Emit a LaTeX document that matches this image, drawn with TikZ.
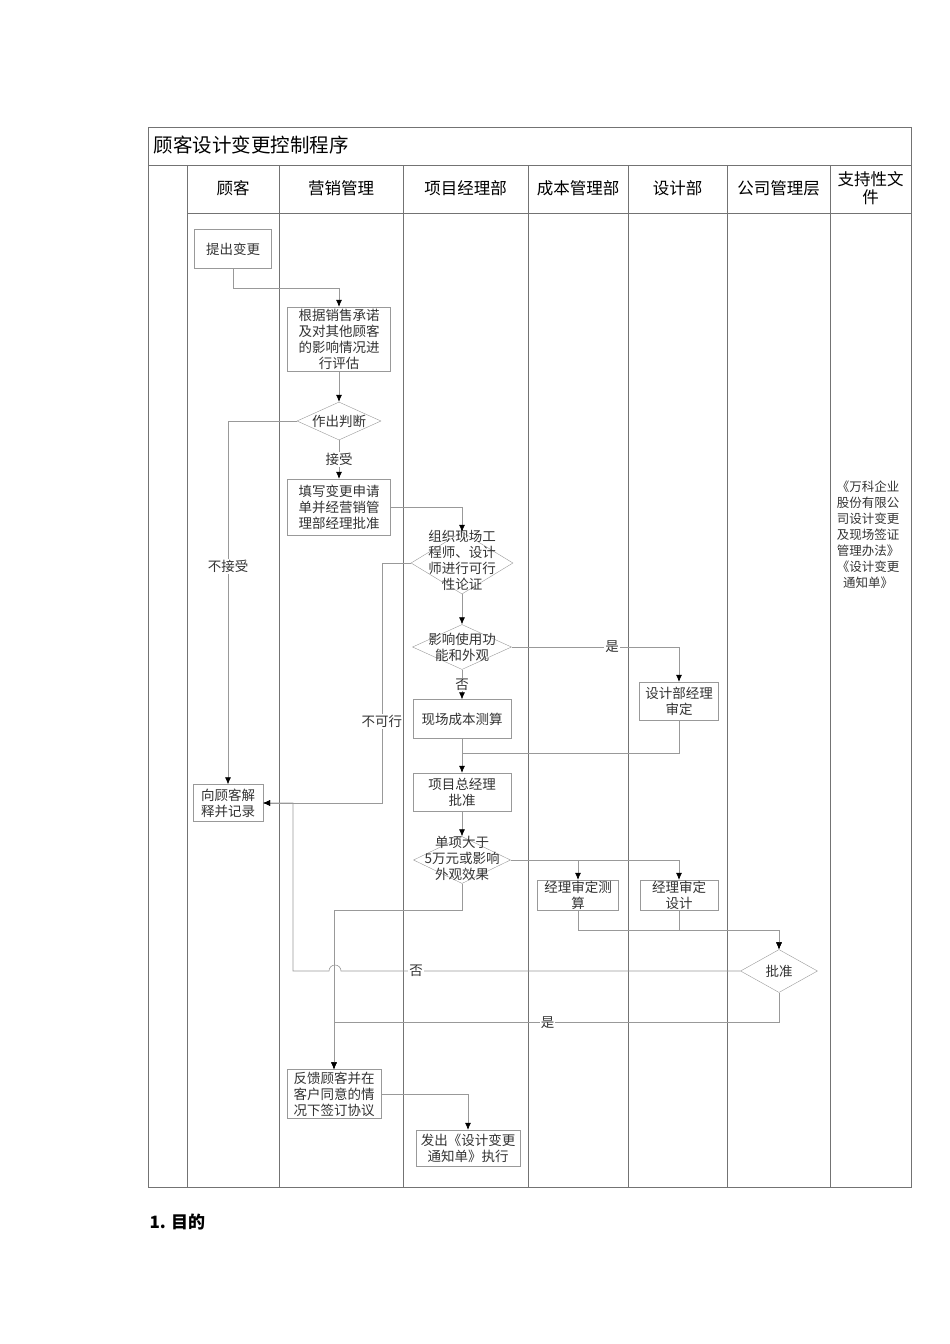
\documentclass[tikz,border=0pt]{standalone}
\usepackage{fontspec}
\setmainfont{Noto Sans CJK SC}
\usetikzlibrary{positioning}
\usetikzlibrary{shapes.geometric}
\usetikzlibrary{arrows.meta}

\newcommand{\flowfont}{\fontsize{13.5}{16}\selectfont}
\newcommand{\headfont}{\fontsize{16.5}{18}\selectfont}

\tikzset{
  frame/.style={black!55, line width=0.7pt},
  line/.style={black!40, line width=0.6pt},
  flow/.style={line, -{Latex[color=black,length=7pt,width=6pt]}},
  box/.style={draw=black!40, fill=white, inner sep=0pt, align=center, font=\flowfont, text=black!80},
  dec/.style={diamond, draw=black!40, fill=white, inner sep=0pt},
  dtext/.style={align=center, font=\flowfont, text=black!80},
  tag/.style={fill=white, inner sep=1pt, font=\flowfont, text=black!80},
  head/.style={font=\headfont, align=center},
}

\begin{document}
\begin{tikzpicture}[x=1pt,y=-1pt]

\useasboundingbox (0,0) rectangle (950,1344);

% table
{
\draw[frame] (148,127) rectangle (911,1187);
\draw[frame] (148,165) -- (911,165);
\draw[frame] (187,213) -- (911,213);
\foreach \x in {187,279,403,528,628,727,830}
  \draw[frame] (\x,165) -- (\x,1187);
}

% title and headers
{
\node[anchor=west, font=\fontsize{19.5}{22}\selectfont] (title) at (150,145) {顾客设计变更控制程序};

\foreach \x/\t/\n in {233/顾客/cust, 341/营销管理/sale, 465.5/项目经理部/proj,
    578/成本管理部/cost, 677.5/设计部/des, 778.5/公司管理层/corp, 870.5/支持性文\\件/doc}
  \node[head] (h\n) at (\x,188) {\t};
}

% boxes
{
\node[box, minimum width=77, minimum height=39] (ask) at (233,249) {提出变更};
\node[box, minimum width=103, minimum height=64] (eval) at (339,339)
  {根据销售承诺\\及对其他顾客\\的影响情况进\\行评估};
\node[box, minimum width=103, minimum height=56] (apply) at (339,507)
  {填写变更申请\\单并经营销管\\理部经理批准};
\node[box, minimum width=98, minimum height=39] (site) at (462,719) {现场成本测算};
\node[box, minimum width=79, minimum height=38] (dmgr) at (679,701) {设计部经理\\审定};
\node[box, minimum width=98, minimum height=38] (gm) at (462,792) {项目总经理\\批准};
\node[box, minimum width=81, minimum height=30] (costok) at (578,895) {经理审定测\\算};
\node[box, minimum width=78, minimum height=30] (desok) at (679,895) {经理审定\\设计};
\node[box, minimum width=70, minimum height=37] (explain) at (228,803) {向顾客解\\释并记录};
\node[box, minimum width=94, minimum height=49] (feed) at (334,1094)
  {反馈顾客并在\\客户同意的情\\况下签订协议};
\node[box, minimum width=104, minimum height=36] (issue) at (468,1148)
  {发出《设计变更\\通知单》执行};
}

% decisions
{
\node[dec, minimum width=84, minimum height=38] (judge) at (339,421) {};
\node[dtext] at (judge) {作出判断};

\node[dec, minimum width=102, minimum height=62] (verify) at (462,563) {};
\node[dtext] at (462,560) {组织现场工\\程师、设计\\师进行可行\\性论证};

\node[dec, minimum width=99, minimum height=45] (affect) at (462,647) {};
\node[dtext] at (affect) {影响使用功\\能和外观};

\node[dec, minimum width=97, minimum height=47] (big) at (462,860) {};
\node[dtext] at (462,858) {单项大于\\5万元或影响\\外观效果};

\node[dec, minimum width=77, minimum height=43] (approve) at (779,971) {};
\node[dtext] at (approve) {批准};
}

\coordinate (merge) at (462,753);

% connectors
{
\draw[flow] (ask.south) -- ++(0,20) -| (eval.north);
\draw[flow] (eval.south) -- (judge.north);
\draw[flow] (judge.south) -- (apply.north) node[tag, midway] {接受};
\draw[flow] (judge.west) -| (explain.north) node[tag, pos=0.7] {不接受};
\draw[flow] (apply.east) -| (verify.north);
\draw[flow] (verify.south) -- (affect.north);
\draw[flow] (verify.west) -- ++(-29,0) |- (explain.east) node[tag, pos=0.33] {不可行};
\draw[flow] (affect.east) -| (dmgr.north) node[tag, pos=0.3] {是};
\draw[flow] (affect.south) -- (site.north) node[tag, midway] {否};
\draw[flow] (site.south) -- (gm.north);
\draw[line] (dmgr.south) |- (merge);
\draw[flow] (gm.south) -- (big.north);
\draw[flow] (big.east) -| (costok.north);
\draw[flow] (big.east) -| (desok.north);
\draw[flow] (costok.south) -- ++(0,20) -| (approve.north);
\draw[flow] (desok.south) -- ++(0,20) -| (approve.north);
\draw[flow] (approve.west) -- (341,971) arc[start angle=0, end angle=-180, radius=6]
  -- (293,971) |- (explain.east);
\node[tag] (no) at (416,971) {否};
\draw[flow] (big.south) -- ++(0,27) -| (feed.north);
\draw[flow] (approve.south) -- ++(0,30) -| (feed.north) node[tag, pos=0.26] {是};
\draw[flow] (feed.east) -| (issue.north);
}

% support documents
\node[dtext, font=\fontsize{12.5}{16}\selectfont] (files) at (868,535)
  {《万科企业\\股份有限公\\司设计变更\\及现场签证\\管理办法》\\《设计变更\\通知单》};

\node[anchor=west, font=\fontsize{17}{20}\selectfont\bfseries] (aim) at (146,1222) {1. 目的};

\end{tikzpicture}
\end{document}
